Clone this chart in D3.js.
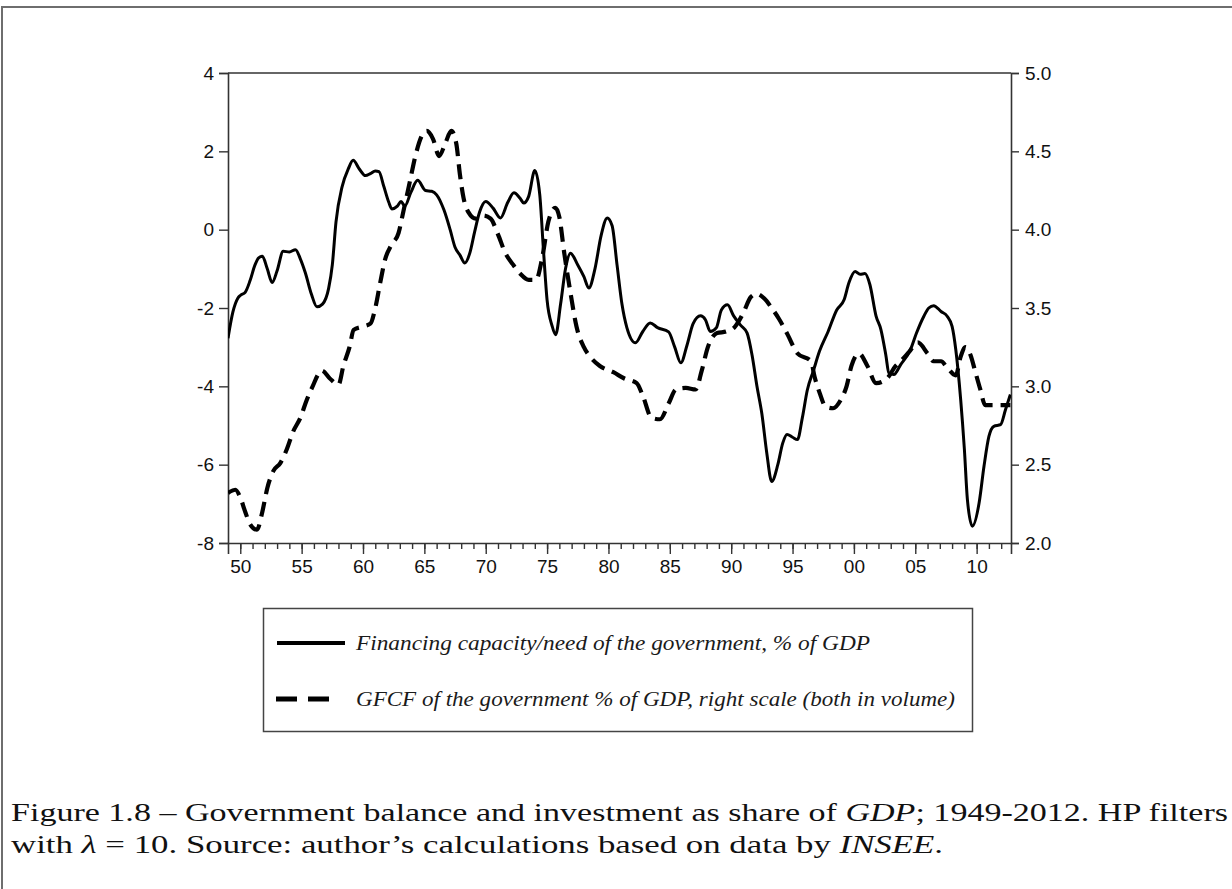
<!DOCTYPE html>
<html>
<head>
<meta charset="utf-8">
<script src="https://cdn.jsdelivr.net/npm/d3@7"></script>
<style>
  body { margin: 0; background: #fff; }
  svg { display: block; }
</style>
</head>
<body>
<div id="chart"></div>
<script>
// financing capacity/need of the government, % of GDP (left scale)
const balanceYears = [1949.0, 1949.4, 1949.8, 1950.0, 1950.4, 1950.8, 1951.2, 1951.5, 1951.8, 1952.2, 1952.6,
  1953.0, 1953.5, 1954.0, 1954.5, 1954.9, 1955.3, 1955.8, 1956.25, 1956.7, 1957.2, 1957.5, 1957.8,
  1958.3, 1958.8, 1959.2, 1959.7, 1960.2, 1960.6, 1961.0, 1961.3, 1961.7, 1962.1, 1962.35, 1962.8,
  1963.1, 1963.4, 1963.9, 1964.45, 1965.1, 1965.6, 1966.0, 1966.6, 1967.1, 1967.5, 1967.9, 1968.3,
  1968.7, 1969.1, 1969.5, 1970.0, 1970.6, 1971.2, 1971.8, 1972.3, 1972.8, 1973.1, 1973.5, 1974.0,
  1974.4, 1974.7, 1975.0, 1975.4, 1975.7, 1976.1, 1976.5, 1976.9, 1977.5, 1978.0, 1978.4, 1978.9,
  1979.4, 1979.9, 1980.3, 1980.7, 1981.1, 1981.5, 1982.2, 1982.8, 1983.4, 1984.0, 1984.9, 1985.4,
  1985.9, 1986.4, 1986.9, 1987.5, 1987.9, 1988.3, 1988.8, 1989.2, 1989.7, 1990.2, 1990.8, 1991.3,
  1991.7, 1992.1, 1992.5, 1992.9, 1993.3, 1993.8, 1994.2, 1994.55, 1995.0, 1995.4, 1995.8, 1996.2,
  1996.7, 1997.2, 1997.9, 1998.6, 1999.2, 1999.6, 2000.1, 2000.5, 2000.9, 2001.3, 2001.8, 2002.2,
  2002.6, 2002.85, 2003.25, 2003.8, 2004.6, 2005.1, 2005.7, 2006.1, 2006.5, 2007.1, 2007.6, 2008.0,
  2008.3, 2008.7, 2009.0, 2009.25, 2009.65, 2010.2, 2010.6, 2011.0, 2011.4, 2011.95, 2012.35, 2012.75];
const balanceValues = [-2.77, -2.1, -1.75, -1.68, -1.6, -1.3, -0.9, -0.72, -0.68, -1.0, -1.35,
  -1.05, -0.55, -0.57, -0.51, -0.75, -1.1, -1.65, -1.97, -1.9, -1.5, -0.9, 0.2,
  1.1, 1.55, 1.77, 1.55, 1.38, 1.43, 1.5, 1.48, 1.1, 0.7, 0.53, 0.6,
  0.72, 0.6, 0.95, 1.26, 1.0, 0.98, 0.89, 0.5, 0.0, -0.45, -0.65, -0.85,
  -0.6, -0.05, 0.45, 0.72, 0.55, 0.30, 0.7, 0.94, 0.8, 0.68, 0.85, 1.51,
  0.9, -0.5, -1.8, -2.45, -2.68, -1.9, -1.0, -0.6, -0.9, -1.2, -1.49, -1.0,
  -0.15, 0.30, 0.1, -0.9, -1.9, -2.5, -2.89, -2.6, -2.38, -2.5, -2.61, -3.0,
  -3.40, -2.95, -2.4, -2.2, -2.3, -2.6, -2.5, -2.05, -1.92, -2.2, -2.45, -2.64,
  -3.2, -4.0, -4.7, -5.7, -6.43, -6.0, -5.45, -5.23, -5.3, -5.36, -4.8, -4.1,
  -3.6, -3.1, -2.6, -2.05, -1.79, -1.35, -1.07, -1.14, -1.12, -1.4, -2.2, -2.55,
  -3.2, -3.66, -3.70, -3.45, -3.07, -2.64, -2.21, -2.0, -1.94, -2.09, -2.21, -2.47,
  -3.06, -4.34, -5.6, -6.9, -7.57, -6.98, -6.04, -5.28, -5.02, -4.98, -4.6, -4.21];

// GFCF of the government, % of GDP (right scale)
const gfcfYears = [1949.0, 1949.6, 1950.0, 1950.4, 1950.8, 1951.36, 1951.8, 1952.2, 1952.7, 1953.26,
  1953.8, 1954.3, 1954.9, 1955.4, 1955.84, 1956.65, 1957.3, 1958.0, 1958.4, 1958.9, 1959.24, 1959.9,
  1960.6, 1961.0, 1961.4, 1961.8, 1962.3, 1962.9, 1963.3, 1963.8, 1964.3, 1964.8, 1965.2, 1965.7,
  1966.2, 1966.7, 1967.2, 1967.6, 1967.9, 1968.2, 1968.6, 1969.2, 1969.8, 1970.4, 1971.0, 1971.6,
  1972.2, 1972.8, 1973.5, 1974.1, 1974.6, 1975.1, 1975.67, 1976.0, 1976.4, 1976.9, 1977.4, 1978.0,
  1978.6, 1979.3, 1980.4, 1981.3, 1982.3, 1982.8, 1983.5, 1984.2, 1984.9, 1985.5, 1986.3, 1987.1,
  1987.6, 1988.1, 1988.85, 1989.6, 1990.3, 1991.0, 1991.6, 1992.1, 1992.7, 1993.3, 1993.9, 1994.6,
  1995.4, 1996.5, 1996.8, 1997.2, 1997.7, 1998.3, 1998.9, 1999.4, 1999.8, 2000.4, 2001.1, 2001.8,
  2002.7, 2003.4, 2003.8, 2004.5, 2005.2, 2006.0, 2006.5, 2007.1, 2007.6, 2008.3, 2008.7, 2009.1,
  2009.5, 2009.9, 2010.3, 2010.7, 2011.4, 2012.1, 2012.75];
const gfcfValues = [2.32, 2.34, 2.29, 2.2, 2.12, 2.085, 2.2, 2.35, 2.46, 2.51,
  2.6, 2.71, 2.8, 2.91, 2.99, 3.10, 3.05, 3.01, 3.13, 3.25, 3.36, 3.38,
  3.40, 3.5, 3.66, 3.81, 3.9, 3.98, 4.12, 4.3, 4.48, 4.6, 4.63, 4.58,
  4.47, 4.55, 4.63, 4.55, 4.35, 4.2, 4.11, 4.07, 4.09, 4.07, 3.97, 3.85,
  3.78, 3.72, 3.68, 3.68, 3.82, 4.05, 4.14, 4.08, 3.85, 3.6, 3.38, 3.25,
  3.18, 3.13, 3.09, 3.05, 3.02, 2.94, 2.80, 2.79, 2.89, 2.98, 2.99, 2.98,
  3.1, 3.25, 3.34, 3.35, 3.38, 3.47, 3.57, 3.59, 3.56, 3.5, 3.43, 3.33,
  3.21, 3.16, 3.06, 2.96, 2.87, 2.86, 2.91, 3.0, 3.13, 3.21, 3.13, 3.02,
  3.05, 3.13, 3.16, 3.22, 3.28, 3.21, 3.16, 3.16, 3.12, 3.07, 3.19, 3.25,
  3.2, 3.09, 2.98, 2.88, 2.88, 2.88, 2.88];

const leftTicks = [4, 2, 0, -2, -4, -6, -8];
const rightTicks = [5.0, 4.5, 4.0, 3.5, 3.0, 2.5, 2.0];
const yearTicks = [1950, 1955, 1960, 1965, 1970, 1975, 1980, 1985, 1990, 1995, 2000, 2005, 2010];

const legendLabels = [
  "Financing capacity/need of the government, % of GDP",
  "GFCF of the government % of GDP, right scale (both in volume)"
];

const svgWidth = 1232;
const svgHeight = 889;

const plot = { left: 228, right: 1011, top: 73, bottom: 543 };

const svg = d3.select("#chart")
  .append("svg")
  .attr("width", svgWidth)
  .attr("height", svgHeight);

// outer frame of the figure
svg.append("rect")
  .attr("x", 2)
  .attr("y", 7)
  .attr("width", svgWidth + 10)
  .attr("height", svgHeight + 10)
  .attr("fill", "none")
  .attr("stroke", "#6e6e6e")
  .attr("stroke-width", 2);

const x = d3.scaleLinear()
  .domain([1949, 2012.8])
  .range([plot.left, plot.right]);

const yLeft = d3.scaleLinear()
  .domain([-8, 4])
  .range([plot.bottom, plot.top]);

const yRight = d3.scaleLinear()
  .domain([2, 5])
  .range([plot.bottom, plot.top]);

const tickFont = "Liberation Sans, Arial, sans-serif";

// left axis (plain hyphen as minus sign, like the original)
svg.append("g")
  .attr("transform", `translate(${plot.left},0)`)
  .call(d3.axisLeft(yLeft).tickValues(leftTicks).tickSize(9).tickPadding(5).tickFormat(d => String(d)));

// right axis
svg.append("g")
  .attr("transform", `translate(${plot.right},0)`)
  .call(d3.axisRight(yRight).tickValues(rightTicks).tickSize(8).tickPadding(6).tickFormat(d => d.toFixed(1)));

// bottom axis, minor ticks every year
const minorYears = d3.range(1950, 2013);
svg.append("g")
  .attr("transform", `translate(0,${plot.bottom})`)
  .call(d3.axisBottom(x).tickValues(minorYears).tickSize(6).tickFormat(""))
  .select(".domain").remove();

svg.append("g")
  .attr("transform", `translate(0,${plot.bottom})`)
  .call(d3.axisBottom(x).tickValues(yearTicks).tickSize(11).tickPadding(6)
    .tickFormat(d => String(d % 100).padStart(2, "0")));

svg.selectAll(".domain").attr("stroke", "#333").attr("stroke-width", 1.6);
svg.selectAll(".tick line").attr("stroke", "#333").attr("stroke-width", 1.4);
svg.selectAll(".tick text")
  .attr("font-family", tickFont)
  .attr("font-size", 19)
  .attr("fill", "#111");

// top border of the plot box
svg.append("line")
  .attr("x1", plot.left).attr("x2", plot.right)
  .attr("y1", plot.top).attr("y2", plot.top)
  .attr("stroke", "#333")
  .attr("stroke-width", 1.6);

svg.append("clipPath").attr("id", "plotclip")
  .append("rect")
  .attr("x", plot.left).attr("y", plot.top - 10)
  .attr("width", plot.right - plot.left).attr("height", plot.bottom - plot.top + 20);

const balanceLine = d3.line()
  .x((d, i) => x(balanceYears[i]))
  .y(d => yLeft(d))
  .curve(d3.curveMonotoneX);

const gfcfLine = d3.line()
  .x((d, i) => x(gfcfYears[i]))
  .y(d => yRight(d))
  .curve(d3.curveMonotoneX);

svg.append("path")
  .datum(gfcfValues)
  .attr("clip-path", "url(#plotclip)")
  .attr("d", gfcfLine)
  .attr("fill", "none")
  .attr("stroke", "#000")
  .attr("stroke-width", 4.2)
  .attr("stroke-dasharray", "15,8");

svg.append("path")
  .datum(balanceValues)
  .attr("clip-path", "url(#plotclip)")
  .attr("d", balanceLine)
  .attr("fill", "none")
  .attr("stroke", "#000")
  .attr("stroke-width", 3)
  .attr("stroke-linejoin", "round");

// legend
const legend = svg.append("g");
legend.append("rect")
  .attr("x", 263.5).attr("y", 608.5)
  .attr("width", 709).attr("height", 123)
  .attr("fill", "#fff")
  .attr("stroke", "#444")
  .attr("stroke-width", 1.5);

legend.append("line")
  .attr("x1", 277).attr("x2", 345)
  .attr("y1", 643).attr("y2", 643)
  .attr("stroke", "#000").attr("stroke-width", 4);

legend.append("line")
  .attr("x1", 276).attr("x2", 329)
  .attr("y1", 699).attr("y2", 699)
  .attr("stroke", "#000").attr("stroke-width", 5)
  .attr("stroke-dasharray", "21,11");

const legendWidths = [514, 599];
legend.selectAll("text.lab")
  .data(legendLabels)
  .enter()
  .append("text")
  .attr("class", "lab")
  .attr("x", 356)
  .attr("y", (d, i) => 650 + i * 56)
  .attr("font-family", "Liberation Serif, serif")
  .attr("font-style", "italic")
  .attr("font-size", 21)
  .attr("fill", "#1a1a1a")
  .attr("textLength", (d, i) => legendWidths[i])
  .attr("lengthAdjust", "spacingAndGlyphs")
  .text(d => d);

// caption
const capFont = "Liberation Serif, serif";
const cap1 = svg.append("text")
  .attr("x", 11).attr("y", 821)
  .attr("font-family", capFont).attr("font-size", 26).attr("fill", "#111")
  .attr("textLength", 1217).attr("lengthAdjust", "spacingAndGlyphs");
cap1.append("tspan").text("Figure 1.8 – Government balance and investment as share of ");
cap1.append("tspan").attr("font-style", "italic").text("GDP");
cap1.append("tspan").text("; 1949-2012. HP filters");

const cap2 = svg.append("text")
  .attr("x", 11).attr("y", 853)
  .attr("font-family", capFont).attr("font-size", 26).attr("fill", "#111")
  .attr("textLength", 932).attr("lengthAdjust", "spacingAndGlyphs");
cap2.append("tspan").text("with ");
cap2.append("tspan").attr("font-style", "italic").text("λ");
cap2.append("tspan").text(" = 10. Source: author’s calculations based on data by ");
cap2.append("tspan").attr("font-style", "italic").text("INSEE");
cap2.append("tspan").text(".");
</script>
</body>
</html>
